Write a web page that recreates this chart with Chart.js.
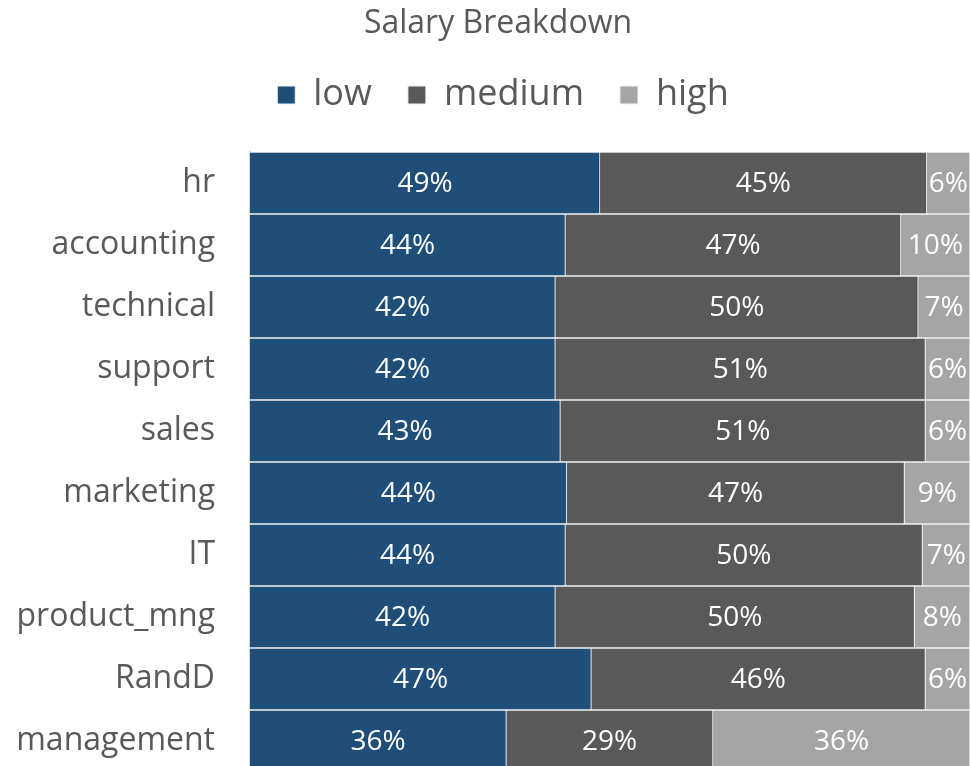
<!DOCTYPE html>
<html>
<head>
<meta charset="utf-8">
<script src="https://cdn.jsdelivr.net/npm/chart.js@4.4.1/dist/chart.umd.min.js"></script>
<style>
  html, body { margin: 0; padding: 0; background: #fff; overflow: hidden; }
  #wrap { width: 970px; height: 766px; overflow: hidden; }
  canvas { display: block; }
</style>
</head>
<body>
<div id="wrap"><canvas id="salaryChart" width="970" height="772"></canvas></div>
<script>
// salary share per department, in percent
const departments = ["hr", "accounting", "technical", "support", "sales", "marketing", "IT", "product_mng", "RandD", "management"];
const lowPct    = [48.6, 43.8, 42.4, 42.4, 43.1, 44.0, 43.8, 42.4, 47.4, 35.6];
const mediumPct = [45.4, 46.6, 50.4, 51.4, 50.7, 46.9, 49.6, 49.9, 46.4, 28.7];
const highPct   = [6.0, 9.6, 7.2, 6.2, 6.2, 9.1, 6.6, 7.7, 6.2, 35.7];

const valueLabels = {
  id: "valueLabels",
  afterDatasetsDraw(chart) {
    const ctx = chart.ctx;
    ctx.save();
    ctx.font = '28px "Open Sans"';
    ctx.fillStyle = "#ffffff";
    ctx.textAlign = "center";
    ctx.textBaseline = "middle";
    chart.data.datasets.forEach((ds, i) => {
      chart.getDatasetMeta(i).data.forEach((bar, j) => {
        const p = bar.getCenterPoint();
        ctx.fillText(Math.round(ds.data[j]) + "%", p.x, p.y + 1);
      });
    });
    ctx.restore();
  },
};

// extra room between the legend and the bars, and nudge title/legend right a bit
const headerTweaks = {
  id: "headerTweaks",
  beforeInit(chart) {
    const fit = chart.legend.fit;
    chart.legend.fit = function () {
      fit.call(this);
      this.height += 29;
    };
  },
  afterLayout(chart) {
    chart.titleBlock.left += 13;
    chart.titleBlock.right += 13;
    chart.legend.left += 18;
    chart.legend.right += 18;
  },
};

const segment = (label, data, color) => ({
  label,
  data,
  backgroundColor: color,
  borderColor: "#f2f2f2",
  borderWidth: 1,
  barPercentage: 1,
  categoryPercentage: 1,
});

new Chart(document.getElementById("salaryChart"), {
  type: "bar",
  data: {
    labels: departments,
    datasets: [
      segment("low", lowPct, "#1f4e79"),
      segment("medium", mediumPct, "#595959"),
      segment("high", highPct, "#a5a5a5"),
    ],
  },
  options: {
    indexAxis: "y",
    responsive: false,
    animation: false,
    layout: { padding: 0 },
    plugins: {
      title: {
        display: true,
        text: "Salary Breakdown",
        color: "#595959",
        font: { family: "Open Sans", size: 32, weight: "normal", lineHeight: 1 },
        padding: { top: 8, bottom: 1 },
      },
      legend: {
        position: "top",
        labels: {
          color: "#595959",
          font: { family: "Open Sans", size: 36 },
          boxWidth: 18,
          boxHeight: 18,
          padding: 36,
        },
      },
      tooltip: { enabled: false },
    },
    scales: {
      x: { stacked: true, min: 0, max: 100, display: false },
      y: {
        stacked: true,
        grid: { display: false },
        border: { display: true, color: "#d9d9d9", width: 2 },
        ticks: {
          color: "#595959",
          font: { family: "Open Sans", size: 32 },
          padding: 27,
        },
        afterFit(scale) {
          scale.width = 250;
          scale.paddingTop = 0;
          scale.paddingBottom = 0;
        },
      },
    },
  },
  plugins: [valueLabels, headerTweaks],
});
</script>
</body>
</html>
